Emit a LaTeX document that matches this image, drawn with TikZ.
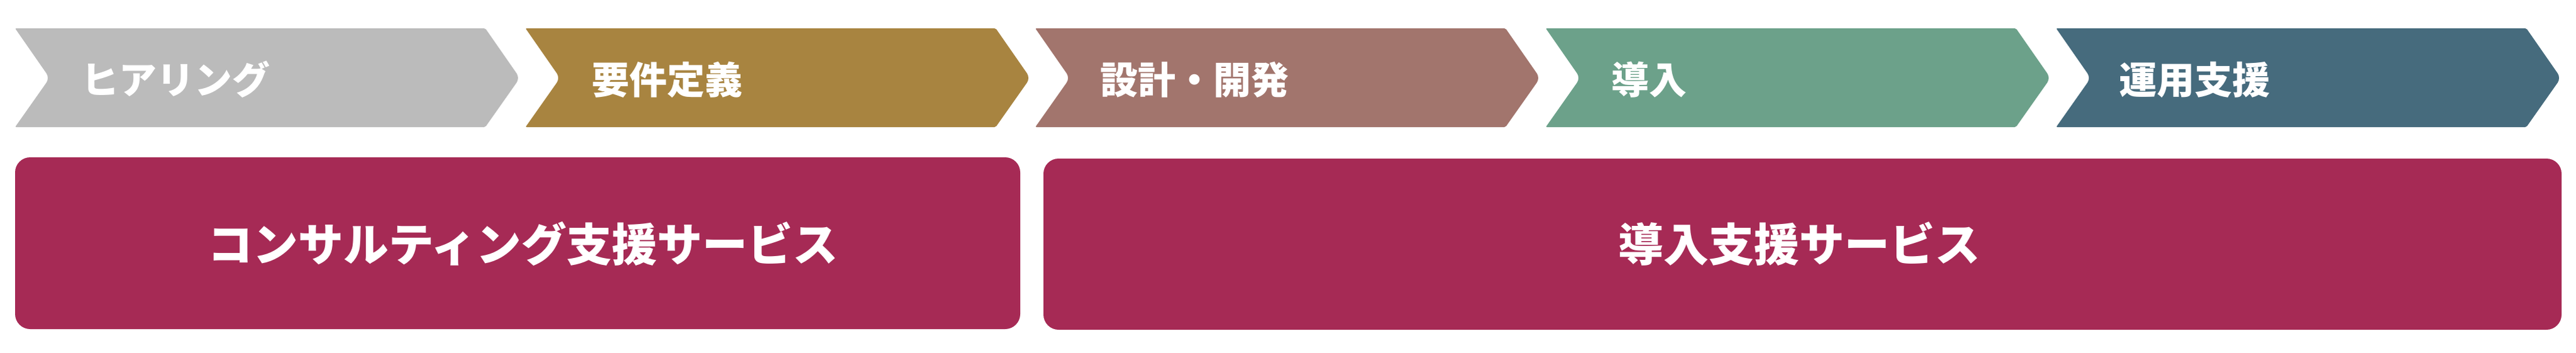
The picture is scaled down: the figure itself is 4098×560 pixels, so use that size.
\documentclass[tikz,border=0pt]{standalone}
\usepackage{fontspec}
\setmainfont{Noto Sans CJK JP}
\definecolor{cgray}{RGB}{187,187,187}
\definecolor{cgold}{RGB}{168,132,64}
\definecolor{cmauve}{RGB}{162,117,109}
\definecolor{cgreen}{RGB}{108,161,138}
\definecolor{cteal}{RGB}{70,107,125}
\definecolor{cberry}{RGB}{166,42,85}
\tikzset{
  steplabel/.style={text=white, inner sep=0pt, anchor=base west, font=\fontsize{60}{72}\selectfont\bfseries},
  servicebox/.style={fill=cberry, rounded corners=24},
  servicelabel/.style={text=white, inner sep=0pt, anchor=base, font=\fontsize{72}{86}\selectfont\bfseries},
}
\newcommand{\chevronshape}[2]{%
  \fill[#2, rounded corners=2] (#1,45) -- (#1+748,45) [rounded corners=9] -- (#1+803,124) [rounded corners=2] -- (#1+748,202) -- (#1,202) [rounded corners=9] -- (#1+55,124) [rounded corners=2] -- cycle;}
\begin{document}
\begin{tikzpicture}[x=1pt,y=-1pt]
\useasboundingbox (0,0) rectangle (4098,560);
\chevronshape{24}{cgray}
\chevronshape{836}{cgold}
\chevronshape{1647}{cmauve}
\chevronshape{2459}{cgreen}
\chevronshape{3271}{cteal}
\node[steplabel] (s1) at (129,149) {ヒアリング};
\node[steplabel] (s2) at (941,149) {要件定義};
\node[steplabel] (s3) at (1750,149) {設計・開発};
\node[steplabel] (s4) at (2563,149) {導入};
\node[steplabel] (s5) at (3371,149) {運用支援};
\fill[servicebox] (24,250) rectangle (1623,523);
\fill[servicebox] (1660,252) rectangle (4075,524);
\node[servicelabel] (c1) at (832,415) {コンサルティング支援サービス};
\node[servicelabel] (c2) at (2862,415) {導入支援サービス};
\end{tikzpicture}
\end{document}
